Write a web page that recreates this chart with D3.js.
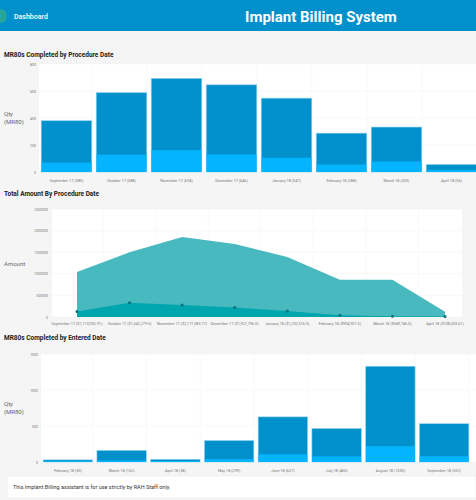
<!DOCTYPE html>
<html><head><meta charset="utf-8">
<script src="https://cdn.jsdelivr.net/npm/d3@7"></script>
<style>body{margin:0;background:#f5f5f5;font-family:Roboto,sans-serif}</style>
</head><body><svg id="c" width="476" height="500"></svg>
<script>
const months1=["September 17 (380)","October 17 (588)","November 17 (694)","December 17 (646)","January 18 (547)","February 18 (288)","March 18 (333)","April 18 (56)"];
const total1=[380,588,694,646,547,288,333,56];
const light1=[70,128,162,130,105,55,78,15];
const months2=["September 17 ($1,110,932.91)","October 17 ($1,542,279.5)","November 17 ($2,171,083.77)","December 17 ($1,921,796.0)","January 18 ($1,202,516.3)","February 18 ($904,901.5)","March 18 ($949,746.0)","April 18 ($108,503.61)"];
const amtTop=[1040000,1500000,1850000,1690000,1390000,860000,860000,120000];
const amtLow=[130000,330000,280000,220000,140000,40000,20000,10000];
const months3=["February 18 (30)","March 18 (162)","April 18 (38)","May 18 (299)","June 18 (627)","July 18 (466)","August 18 (1330)","September 18 (532)"];
const total3=[30,162,38,299,627,466,1330,532];
const light3=[10,20,10,40,105,78,220,80];
const ticks1=[0,200,400,600,800],ticks2=[0,500000,1000000,1500000,2000000,2500000],ticks3=[0,500,1000,1500];

const svg=d3.select("#c");
svg.append("rect").attr("width",476).attr("height",31).attr("fill","#0091cd");
svg.append("circle").attr("cx",0).attr("cy",16).attr("r",7).attr("fill","#26a69a");
svg.append("text").attr("x",14).attr("y",19).attr("fill","#fff").attr("font-size",7).attr("font-weight",500).text("Dashboard");
svg.append("text").attr("x",245).attr("y",22).attr("fill","#fff").attr("font-size",15).attr("font-weight",700).text("Implant Billing System");

function title(y,t){svg.append("text").attr("x",4).attr("y",y).attr("font-size",6.5).attr("font-weight",700).attr("fill","#222").text(t);}
function ylab(x,y,lines){const t=svg.append("text").attr("x",x).attr("y",y).attr("font-size",6).attr("fill","#666");lines.forEach((l,i)=>t.append("tspan").attr("x",x).attr("dy",i?8:0).text(l));}

function barChart(y0,y1,x0,x1,cats,tot,lt,max,ticks,pad){
  svg.append("rect").attr("x",x0).attr("y",y0).attr("width",476-x0).attr("height",y1-y0).attr("fill","#fff");
  const x=d3.scaleBand().domain(cats).range([x0,x1]).paddingInner(pad).paddingOuter(pad/2);
  const y=d3.scaleLinear().domain([0,max]).range([y1,y0]);
  const g=svg.append("g");
  ticks.forEach(t=>{g.append("line").attr("x1",x0).attr("x2",476).attr("y1",y(t)).attr("y2",y(t)).attr("stroke","#f0f0f0").attr("stroke-width",0.5);
    g.append("text").attr("x",x0-3).attr("y",y(t)+1.5).attr("text-anchor","end").attr("font-size",3.5).attr("fill","#777").text(t);});
  cats.forEach((c,i)=>{g.append("line").attr("x1",x0+x.step()*(i+1)-x.step()*pad/2).attr("x2",x0+x.step()*(i+1)-x.step()*pad/2).attr("y1",y0).attr("y2",y1).attr("stroke","#f3f3f3").attr("stroke-width",0.5);});
  g.selectAll(".b").data(cats).join("rect").attr("x",d=>x(d)).attr("width",x.bandwidth()).attr("y",(d,i)=>y(tot[i])).attr("height",(d,i)=>y1-y(tot[i])).attr("fill","#0091cd").attr("stroke","#9ad6f2").attr("stroke-width",0.6);
  g.selectAll(".l").data(cats).join("rect").attr("x",d=>x(d)+0.3).attr("width",x.bandwidth()-0.6).attr("y",(d,i)=>y(lt[i])).attr("height",(d,i)=>y1-y(lt[i])).attr("fill","#05b4ff");
  g.selectAll(".t").data(cats).join("text").attr("x",d=>x(d)+x.bandwidth()/2).attr("y",y1+10).attr("text-anchor","middle").attr("font-size",3.8).attr("fill","#777").text(d=>d);
}
title(57,"MR80s Completed by Procedure Date");
ylab(4,116,["Qty","(MR80)"]);
barChart(64,172,39,479,months1,total1,light1,800,ticks1,0.08);

title(196,"Total Amount By Procedure Date");
ylab(4,266,["Amount"]);
(function(){
  const x0=52,y0=209,y1=317;
  svg.append("rect").attr("x",x0).attr("y",y0).attr("width",410).attr("height",y1-y0).attr("fill","#fff");
  const x=d3.scalePoint().domain(months2).range([77,445]);
  const y=d3.scaleLinear().domain([0,2500000]).range([y1,y0]);
  ticks2.forEach(t=>{svg.append("line").attr("x1",x0).attr("x2",462).attr("y1",y(t)).attr("y2",y(t)).attr("stroke","#f0f0f0").attr("stroke-width",0.5);
    svg.append("text").attr("x",x0-4).attr("y",y(t)+1.5).attr("text-anchor","end").attr("font-size",3.5).attr("fill","#777").text(t);});
  months2.forEach(m=>svg.append("line").attr("x1",x(m)+26).attr("x2",x(m)+26).attr("y1",y0).attr("y2",y1).attr("stroke","#f3f3f3").attr("stroke-width",0.5));
  const a=d3.area().x((d,i)=>x(months2[i])).y0(y1).y1(d=>y(d));
  svg.append("path").attr("d",a(amtTop)).attr("fill","#48babf");
  svg.append("path").attr("d",a(amtLow)).attr("fill","#00a6ae");
  svg.selectAll(".p").data(amtLow).join("circle").attr("cx",(d,i)=>x(months2[i])).attr("cy",d=>y(d)).attr("r",1.5).attr("fill","#00727a");
  svg.selectAll(".xt").data(months2).join("text").attr("x",d=>x(d)).attr("y",y1+8).attr("text-anchor","middle").attr("font-size",3.8).attr("fill","#777").text(d=>d);
})();

title(340,"MR80s Completed by Entered Date");
ylab(4,406,["Qty","(MR80)"]);
barChart(354,462,41,471,months3,total3,light3,1500,ticks3,0.08);

svg.append("rect").attr("x",7).attr("y",476).attr("width",469).attr("height",22).attr("fill","#fff").attr("stroke","#e6e6e6").attr("stroke-width",0.5);
svg.append("text").attr("x",13).attr("y",489).attr("font-size",5.5).attr("fill","#333").text("This Implant Billing assistant is for use strictly by RAH Staff only.");
</script></body></html>
